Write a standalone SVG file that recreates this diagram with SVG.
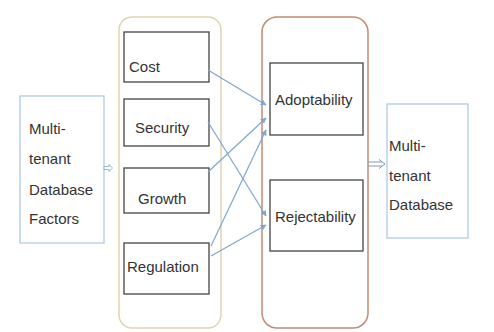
<svg xmlns="http://www.w3.org/2000/svg" width="494" height="332" viewBox="0 0 494 332">
<defs>
<style>
.t{font-family:"Liberation Sans",Arial,sans-serif;font-size:15px;fill:#333}
.outer{fill:#fff;stroke:#a9c6e3;stroke-width:1.2}
.box{fill:#fff;stroke:#444;stroke-width:1.3}
.con{fill:none;stroke:#7ea6cf;stroke-width:1.2}
</style>
<marker id="ah" viewBox="0 0 10 10" refX="9" refY="5" markerWidth="6" markerHeight="6" orient="auto" markerUnits="userSpaceOnUse">
<path d="M0,0 L10,5 L0,10 z" fill="#7ea6cf"/>
</marker>
</defs>
<rect width="494" height="332" fill="#fff"/>
<g id="factors">
<rect class="outer" x="20" y="96" width="84" height="147"/>
<text class="t" x="29" y="134">Multi-</text>
<text class="t" x="29" y="164">tenant</text>
<text class="t" x="29" y="195">Database</text>
<text class="t" x="29" y="224">Factors</text>
</g>
<g id="group-left">
<rect x="119" y="17" width="102" height="311" rx="13" fill="#fff" stroke="#ddd6b0" stroke-width="1.5"/>
</g>
<g id="group-right">
<rect x="262" y="17" width="106" height="311" rx="15" fill="#fff" stroke="#c38c70" stroke-width="1.5"/>
</g>
<g id="cost">
<rect class="box" x="124" y="32" width="85" height="50"/>
<text class="t" x="129" y="72">Cost</text>
</g>
<g id="security">
<rect class="box" x="124" y="99" width="85" height="47"/>
<text class="t" x="135" y="133">Security</text>
</g>
<g id="growth">
<rect class="box" x="124" y="168" width="85" height="45"/>
<text class="t" x="138" y="204">Growth</text>
</g>
<g id="regulation">
<rect class="box" x="124" y="243" width="85" height="51"/>
<text class="t" x="127" y="272">Regulation</text>
</g>
<g id="adoptability">
<rect class="box" x="270" y="63" width="93" height="72"/>
<text class="t" x="275" y="105">Adoptability</text>
</g>
<g id="rejectability">
<rect class="box" x="270" y="180" width="93" height="71"/>
<text class="t" x="275" y="222">Rejectability</text>
</g>
<g id="database">
<rect class="outer" x="387" y="104" width="81" height="134"/>
<text class="t" x="389" y="151">Multi-</text>
<text class="t" x="389" y="181">tenant</text>
<text class="t" x="389" y="210">Database</text>
</g>
<g id="connectors">
<line class="con" x1="208" y1="70" x2="266" y2="105" marker-end="url(#ah)"/>
<line class="con" x1="208" y1="122" x2="266" y2="216" marker-end="url(#ah)"/>
<line class="con" x1="208" y1="172" x2="266" y2="118" marker-end="url(#ah)"/>
<line class="con" x1="211" y1="246" x2="266" y2="130" marker-end="url(#ah)"/>
<line class="con" x1="211" y1="256" x2="266" y2="225" marker-end="url(#ah)"/>
<path d="M104,166.5 H109 V164.5 L112.5,168 L109,171.5 V169.5 H104 Z" fill="#fff" stroke="#8aaed0" stroke-width="0.9"/>
<path d="M368,162 H382 M368,166 H382 M379,159.5 L385,164 L379,168.5" fill="none" stroke="#7d9bb8" stroke-width="1"/>
</g>
</svg>
